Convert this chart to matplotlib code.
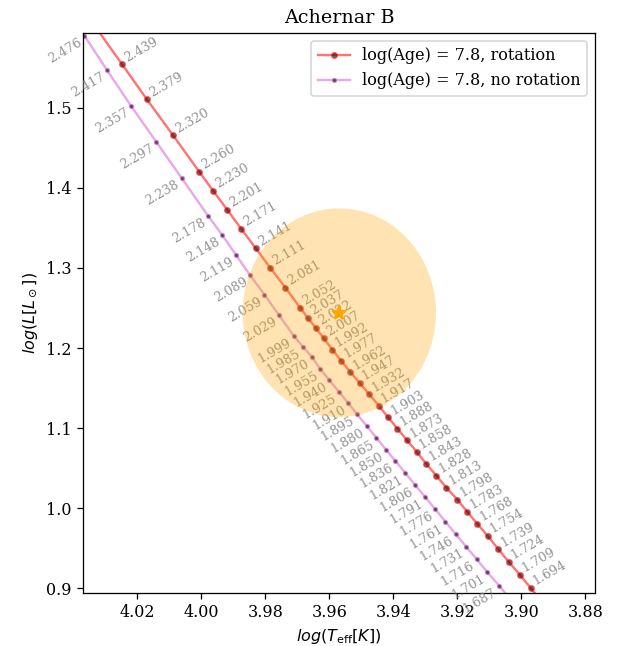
import matplotlib
matplotlib.use("Agg")
import matplotlib.pyplot as plt
from matplotlib.patches import Ellipse
import numpy as np

plt.rcParams['font.family'] = ['DejaVu Serif']

# ---- data ----
rot_mass = [2.498, 2.439, 2.379, 2.320, 2.260, 2.230, 2.201, 2.171, 2.141, 2.111, 2.081,
            2.052, 2.037, 2.022, 2.007, 1.992, 1.977, 1.962, 1.947, 1.932, 1.917,
            1.903, 1.888, 1.873, 1.858, 1.843, 1.828, 1.813, 1.798, 1.783, 1.768,
            1.754, 1.739, 1.724, 1.709, 1.694, 1.679]
rot_logT = [4.0325, 4.02468, 4.01697, 4.00876, 4.00054, 3.99627, 3.99189, 3.98752, 3.98293,
            3.97846, 3.97369, 3.96910, 3.96669, 3.96419, 3.96169, 3.95901, 3.95620,
            3.95339, 3.95045, 3.94748, 3.94452, 3.94161, 3.93871, 3.93568, 3.93265,
            3.92965, 3.92653, 3.92340, 3.91997, 3.91685, 3.91372, 3.91048, 3.90716,
            3.90392, 3.90048, 3.89711, 3.89370]
rot_logL = [1.5980, 1.5542, 1.5105, 1.4655, 1.4197, 1.3964, 1.3727, 1.3489, 1.3245,
            1.3003, 1.2753, 1.2503, 1.2375, 1.2250, 1.2121, 1.1979, 1.1838, 1.1697,
            1.1563, 1.1422, 1.1280, 1.1135, 1.0993, 1.0848, 1.0702, 1.0552, 1.0406,
            1.0256, 1.0106, 0.9953, 0.9803, 0.9653, 0.9487, 0.9329, 0.9170, 0.9004,
            0.8840]

norot_mass = [2.476, 2.417, 2.357, 2.297, 2.238, 2.178, 2.148, 2.119, 2.089, 2.059, 2.029,
              1.999, 1.985, 1.970, 1.955, 1.940, 1.925, 1.910, 1.895, 1.880, 1.865,
              1.850, 1.836, 1.821, 1.806, 1.791, 1.776, 1.761, 1.746, 1.731, 1.716,
              1.701, 1.687, 1.672]
norot_logT = [4.03646, 4.02937, 4.02187, 4.01407, 4.00604, 3.99773, 3.99336, 3.98918,
              3.98471, 3.98024, 3.97565, 3.97106, 3.96825, 3.96535, 3.96276, 3.95994,
              3.95701, 3.95410, 3.95129, 3.94827, 3.94527, 3.94224, 3.93933, 3.93621,
              3.93309, 3.92996, 3.92684, 3.92372, 3.92047, 3.91725, 3.91391, 3.91060,
              3.90695, 3.90351]
norot_logL = [1.5899, 1.5467, 1.5021, 1.4576, 1.4119, 1.3644, 1.3407, 1.3165, 1.2908,
              1.2666, 1.2408, 1.2150, 1.2016, 1.1888, 1.1734, 1.1598, 1.1455, 1.1313,
              1.1172, 1.1026, 1.0880, 1.0730, 1.0589, 1.0440, 1.0286, 1.0136, 0.9986,
              0.9832, 0.9674, 0.9520, 0.9362, 0.9200, 0.9033, 0.8866]

star_logT = 3.95685
star_logL = 1.2441
err_logT = 0.0302
err_logL = 0.1302

xlim = (4.037, 3.8769)
ylim = (0.8945, 1.5933)
xticks = [4.02, 4.00, 3.98, 3.96, 3.94, 3.92, 3.90, 3.88]
yticks = [0.9, 1.0, 1.1, 1.2, 1.3, 1.4, 1.5]

# ---- figure ----
dpi = 115
fig = plt.figure(figsize=(622 / dpi, 646 / dpi), dpi=dpi)
ax = fig.add_axes([82.7 / 622, 1 - 592.7 / 646, (595.3 - 82.7) / 622, (592.7 - 33) / 646])

ax.plot(rot_logT, rot_logL, '-o', color='red', alpha=0.55, lw=1.5,
        ms=3.4, mfc='k', mec='red', mew=1.0, label='log(Age) = 7.8, rotation')
ax.plot(norot_logT, norot_logL, '-o', color='orchid', alpha=0.6, lw=1.5,
        ms=2.6, mfc='k', mec='orchid', mew=0.8, label='log(Age) = 7.8, no rotation')

def inside(x, y):
    return (min(xlim) <= x <= max(xlim)) and (min(ylim) <= y <= max(ylim))

for m, x, y in zip(rot_mass, rot_logT, rot_logL):
    if inside(x, y):
        ax.text(x, y, f"{m:.3f}", rotation=30, ha='left', va='bottom',
                fontsize=8, color='gray', alpha=0.85)
for m, x, y in zip(norot_mass, norot_logT, norot_logL):
    if inside(x, y):
        ax.text(x, y, f"{m:.3f}", rotation=30, ha='right', va='top',
                fontsize=8, color='gray', alpha=0.85)

ell = Ellipse((star_logT, star_logL), width=2 * err_logT, height=2 * err_logL,
              facecolor='orange', edgecolor='none', alpha=0.3, zorder=3)
ax.add_patch(ell)
ax.plot([star_logT], [star_logL], '*', color='orange', ms=9, zorder=4)

ax.set_xlim(*xlim)
ax.set_ylim(*ylim)
ax.set_xticks(xticks)
ax.set_xticklabels([f"{t:.2f}" for t in xticks])
ax.set_yticks(yticks)
ax.set_yticklabels([f"{t:.1f}" for t in yticks])
ax.set_xlabel(r'$log(T_{\rm eff}[K])$')
ax.set_ylabel(r'$log(L[L_\odot])$')
ax.set_title('Achernar B')
ax.legend(loc='upper right')

fig.savefig('out.png', dpi=dpi)
